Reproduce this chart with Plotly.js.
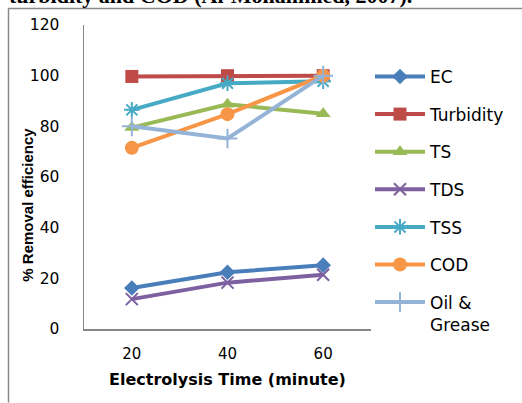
<!DOCTYPE html>
<html>
<head>
<meta charset="utf-8">
<script src="https://cdn.plot.ly/plotly-3.0.1.min.js"></script>
<style>html,body{margin:0;padding:0;background:#fff;}#chart{width:522px;height:403px;}</style>
</head>
<body>
<div id="chart"></div>
<script>
// Data
const times = ["20", "40", "60"];
const seriesNames = ["EC", "Turbidity", "TS", "TDS", "TSS", "COD", "Oil &<br>Grease"];
const ec = [16.2, 22.4, 25.2];
const turbidity = [99.7, 100, 100];
const ts = [79.5, 88.7, 85];
const tds = [11.8, 18.3, 21.4];
const tss = [86.5, 97, 97.8];
const cod = [71.5, 84.8, 100];
const oilGrease = [80, 75.2, 100];
const yTicks = [0, 20, 40, 60, 80, 100, 120];
const captionText = "turbidity and COD (Al-Mohammed, 2007).";
const xTitle = "Electrolysis Time (minute)";
const yTitle = "% Removal efficiency";

const values = [ec, turbidity, ts, tds, tss, cod, oilGrease];
const colors = ["#4A7EBB", "#BE4B48", "#98B954", "#7D60A0", "#46AAC5", "#F79646", "#95B3D7"];
const symbols = ["diamond", "square", "triangle-up", "x-thin-open", "asterisk-open", "circle", "cross-thin-open"];
const msizes = [12, 13, 13, 12, 13, 14, 14];

const traces = values.map((v, i) => ({
  type: "scatter",
  mode: "lines+markers",
  x: times,
  y: v,
  name: seriesNames[i],
  legendgroup: "g" + i,
  line: {color: colors[i], width: 4},
  marker: {
    symbol: symbols[i],
    size: msizes[i],
    color: colors[i],
    line: {color: colors[i], width: symbols[i].indexOf("open") >= 0 ? 2 : 0}
  }
}));

const L = 84, R = 371, T = 25, B = 329.5;
const W = R - L, H = B - T;
const px = x => (x - L) / W;
const py = y => (B - y) / H;

const layout = {
  width: 522,
  height: 403,
  margin: {l: L, r: 522 - R, t: T, b: 403 - B, pad: 0},
  paper_bgcolor: "#ffffff",
  plot_bgcolor: "#ffffff",
  showlegend: true,
  font: {family: "DejaVu Sans", color: "#000"},
  xaxis: {
    type: "category",
    range: [-0.5, 2.5],
    showline: true,
    linecolor: "#868686",
    linewidth: 1.5,
    showgrid: false,
    zeroline: false,
    ticks: "",
    ticklabelstandoff: 10,
    tickfont: {family: "DejaVu Sans", size: 15, color: "#000"},
    title: {text: xTitle, font: {family: "DejaVu Sans", size: 16, weight: "bold", color: "#000"}, standoff: 12}
  },
  yaxis: {
    range: [0, 120],
    tickvals: yTicks,
    showline: true,
    linecolor: "#868686",
    linewidth: 1.5,
    showgrid: false,
    zeroline: false,
    ticks: "",
    ticklabelstandoff: 20,
    tickfont: {family: "DejaVu Sans", size: 15.5, color: "#000"}
  },
  legend: {
    x: px(370), xanchor: "left",
    y: py(59), yanchor: "top",
    font: {family: "DejaVu Sans", size: 17, color: "#000"},
    tracegroupgap: 12.5,
    traceorder: "grouped",
    itemwidth: 50,
    valign: "top",
    bgcolor: "rgba(0,0,0,0)"
  },
  annotations: [
    {
      text: yTitle, textangle: -90, showarrow: false,
      xref: "paper", yref: "paper", x: px(28), y: py(205),
      xanchor: "center", yanchor: "middle",
      font: {family: "Liberation Sans", size: 15, weight: "bold", color: "#000"}
    },
    {
      text: captionText, showarrow: false,
      xref: "paper", yref: "paper", x: px(7), y: py(4),
      xanchor: "left", yanchor: "bottom", yshift: -6,
      font: {family: "Liberation Serif", size: 22, weight: "bold", color: "#000"}
    }
  ],
  shapes: [
    {type: "line", xref: "paper", yref: "paper", x0: px(8), x1: px(522), y0: py(8.5), y1: py(8.5), line: {color: "#8a8a8a", width: 1.5}},
    {type: "line", xref: "paper", yref: "paper", x0: px(8.5), x1: px(8.5), y0: py(8.5), y1: py(403), line: {color: "#8a8a8a", width: 1.5}}
  ]
};

Plotly.newPlot("chart", traces, layout, {displayModeBar: false, staticPlot: true});
</script>
</body>
</html>
